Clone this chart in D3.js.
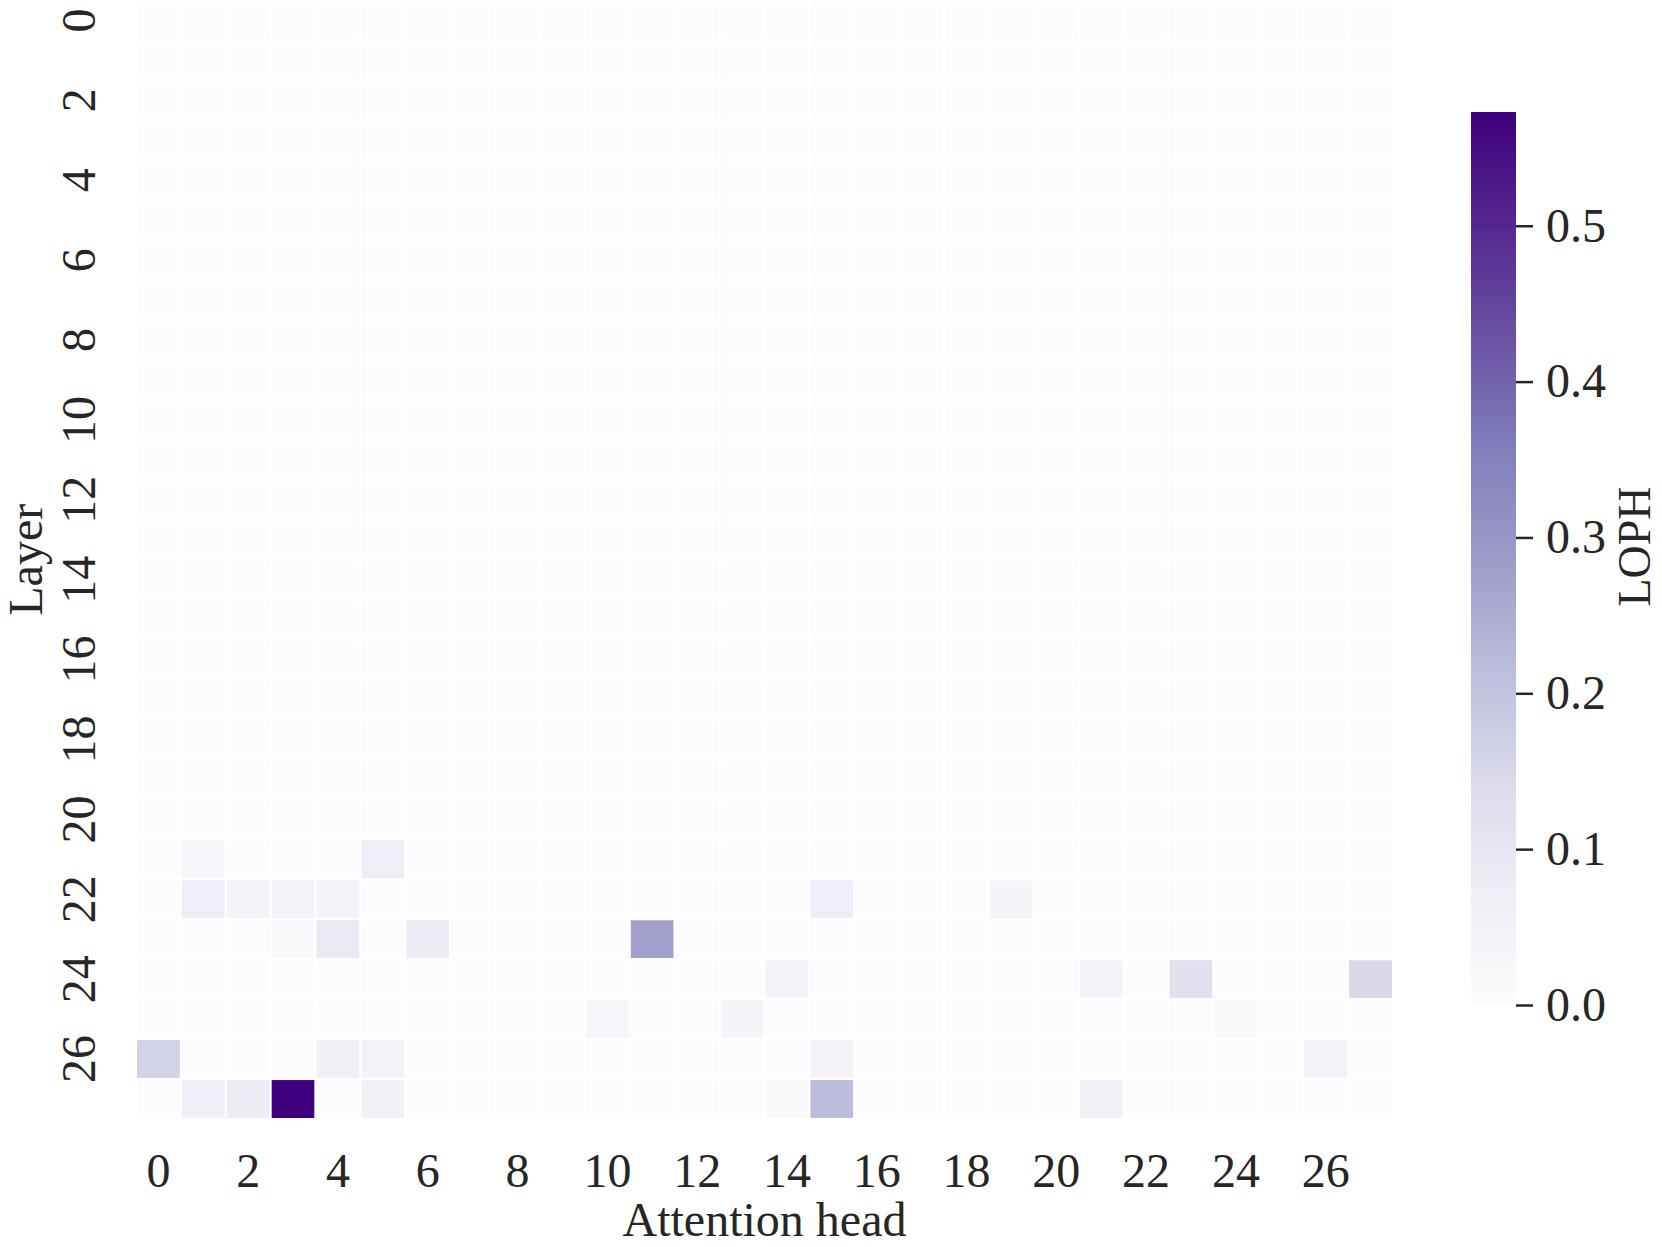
<!DOCTYPE html>
<html>
<head>
<meta charset="utf-8">
<script src="https://cdn.jsdelivr.net/npm/d3@7"></script>
<style>
  html, body { margin: 0; padding: 0; background: #fff; }
  svg { display: block; }
  text { font-family: "Liberation Serif", "Times New Roman", serif; fill: #262626; }
</style>
</head>
<body>
<svg id="chart" width="1662" height="1247"></svg>
<script>
// ---- data ----
const heads = d3.range(28);          // attention heads (columns)
const layers = d3.range(28);         // layers (rows)
const xTickLabels = [0,2,4,6,8,10,12,14,16,18,20,22,24,26];
const yTickLabels = [0,2,4,6,8,10,12,14,16,18,20,22,24,26];
const cbTicks = [0.0, 0.1, 0.2, 0.3, 0.4, 0.5];
const zeroRow = new Array(28).fill(0);
// layers 0-20: all ~0
const layer21 = [0,0.025,0,0,0,0.07,0,0,0,0,0,0,0,0,0,0,0,0,0,0,0,0,0,0,0,0,0,0];
const layer22 = [0,0.07,0.045,0.045,0.04,0,0,0,0,0,0,0,0,0,0,0.07,0,0,0,0.035,0,0,0,0,0,0,0,0];
const layer23 = [0,0,0,0.012,0.09,0,0.08,0,0,0,0,0.275,0,0,0,0,0,0,0,0,0,0,0,0,0,0,0,0];
const layer24 = [0,0,0,0,0,0,0,0,0,0,0,0,0,0,0.04,0,0,0,0,0,0,0.04,0,0.12,0,0,0,0.145];
const layer25 = [0,0,0,0,0,0,0,0,0,0,0.03,0,0,0.035,0,0,0,0,0,0,0,0,0,0,0.015,0,0,0];
const layer26 = [0.16,0,0,0,0.06,0.045,0,0,0,0,0,0,0,0,0,0.045,0,0,0,0,0,0,0,0,0,0,0.045,0];
const layer27 = [0,0.065,0.075,0.573,0,0.05,0,0,0,0,0,0,0,0,0.012,0.215,0,0,0,0,0,0.055,0,0,0,0,0,0];
const lophRows = d3.range(21).map(() => zeroRow.slice())
  .concat([layer21, layer22, layer23, layer24, layer25, layer26, layer27]);

// ---- style ----
const purples = ["#fcfbfd","#efedf5","#dadaeb","#bcbddc","#9e9ac8","#807dba","#6a51a3","#54278f","#3f007d"];
const plot = {left: 136, right: 1393, top: 0.5, bottom: 1119};
const cb = {left: 1471, right: 1516, top: 112, bottom: 1005};
const fontSize = 48;

const svg = d3.select("#chart");

const vmin = 0;
const vmax = d3.max(lophRows, r => d3.max(r));
const color = d3.scaleLinear()
  .domain(purples.map((_, i) => vmin + i / (purples.length - 1) * (vmax - vmin)))
  .range(purples)
  .interpolate(d3.interpolateRgb)
  .clamp(true);

const x = d3.scaleBand().domain(heads).range([plot.left, plot.right]);
const y = d3.scaleBand().domain(layers).range([plot.top, plot.bottom]);

// cells
const cells = [];
lophRows.forEach((row, li) => row.forEach((v, hi) => cells.push({layer: layers[li], head: heads[hi], v})));
svg.append("g").selectAll("rect").data(cells).join("rect")
  .attr("x", d => x(d.head))
  .attr("y", d => y(d.layer))
  .attr("width", x.bandwidth())
  .attr("height", y.bandwidth())
  .attr("fill", d => color(d.v))
  .attr("stroke", "#ffffff")
  .attr("stroke-width", 2);

// x axis tick labels
const xAxis = svg.append("g")
  .attr("transform", `translate(0, ${plot.bottom})`)
  .call(d3.axisBottom(x).tickValues(xTickLabels).tickSize(0).tickPadding(0));
xAxis.select(".domain").remove();
xAxis.selectAll("text")
  .attr("y", 68).attr("dy", 0)
  .style("font-size", fontSize + "px")
  .style("font-family", '"Liberation Serif", serif')
  .attr("fill", "#262626");

// y axis tick labels (rotated)
const yAxis = svg.append("g")
  .attr("transform", `translate(${plot.left}, 0)`)
  .call(d3.axisLeft(y).tickValues(yTickLabels).tickSize(0).tickPadding(0));
yAxis.select(".domain").remove();
yAxis.selectAll("text")
  .attr("x", 0).attr("dy", 0).attr("y", 0)
  .attr("text-anchor", "middle")
  .attr("transform", "translate(-41,0) rotate(-90)")
  .style("font-size", fontSize + "px")
  .style("font-family", '"Liberation Serif", serif')
  .attr("fill", "#262626");

// axis titles
svg.append("text")
  .attr("x", (plot.left + plot.right) / 2)
  .attr("y", 1236)
  .attr("text-anchor", "middle")
  .style("font-size", fontSize + "px")
  .text("Attention head");

svg.append("text")
  .attr("transform", `translate(42, ${(plot.top + plot.bottom) / 2}) rotate(-90)`)
  .attr("text-anchor", "middle")
  .style("font-size", fontSize + "px")
  .text("Layer");

// colorbar
const defs = svg.append("defs");
const grad = defs.append("linearGradient")
  .attr("id", "cbgrad").attr("x1", 0).attr("y1", 1).attr("x2", 0).attr("y2", 0);
d3.range(0, 1.0001, 0.02).forEach(t => {
  grad.append("stop").attr("offset", t).attr("stop-color", color(vmin + t * (vmax - vmin)));
});
svg.append("rect")
  .attr("x", cb.left).attr("y", cb.top)
  .attr("width", cb.right - cb.left).attr("height", cb.bottom - cb.top)
  .attr("fill", "url(#cbgrad)");

const cbScale = d3.scaleLinear().domain([vmin, vmax]).range([cb.bottom, cb.top]);
const cbAxis = svg.append("g")
  .attr("transform", `translate(${cb.right}, 0)`)
  .call(d3.axisRight(cbScale).tickValues(cbTicks).tickFormat(d3.format(".1f")).tickSize(17).tickPadding(13));
cbAxis.select(".domain").remove();
cbAxis.selectAll("line").attr("stroke", "#262626").attr("stroke-width", 2.5);
cbAxis.selectAll("text")
  .style("font-size", fontSize + "px")
  .style("font-family", '"Liberation Serif", serif')
  .attr("fill", "#262626");

svg.append("text")
  .attr("transform", `translate(1650, ${(cb.top + cb.bottom) / 2 - 12}) rotate(-90)`)
  .attr("text-anchor", "middle")
  .style("font-size", 46 + "px")
  .text("LOPH");
</script>
</body>
</html>
